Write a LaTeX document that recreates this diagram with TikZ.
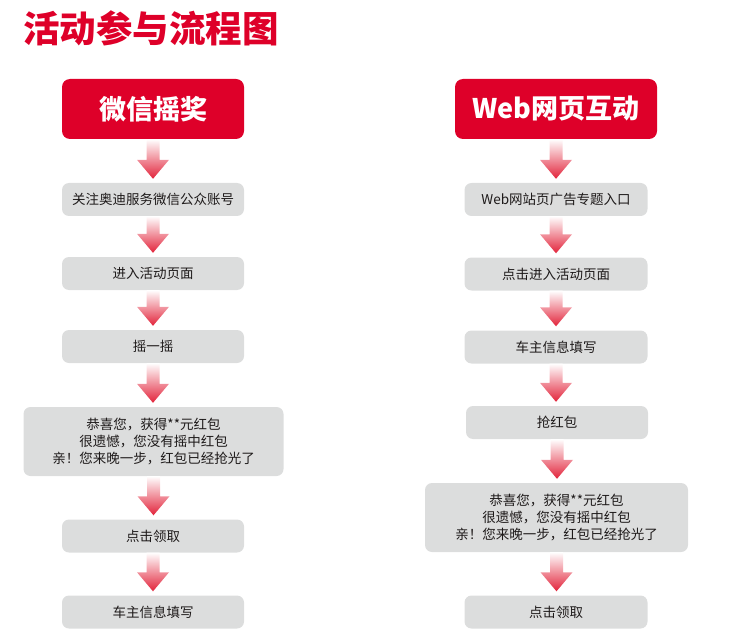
\documentclass[tikz,border=0pt]{standalone}
\usepackage{fontspec}
\setmainfont{Noto Sans CJK SC}
\usetikzlibrary{calc}
\definecolor{hdred}{HTML}{DE0029}
\definecolor{boxgray}{HTML}{DCDDDD}
\definecolor{txt}{HTML}{1E1A1A}
\definecolor{arrred}{HTML}{E2233A}
\tikzset{
  header/.style={rectangle, rounded corners=8pt, fill=hdred, text=white,
    font=\fontsize{27}{30}\selectfont\bfseries, minimum height=60pt, inner sep=0pt},
  stepbox/.style={rectangle, rounded corners=7pt, fill=boxgray, text=txt,
    font=\fontsize{13.5}{17}\selectfont, minimum height=33pt, inner sep=0pt, align=center},
  flowarrow/.style={top color=white, middle color=arrred!22, bottom color=arrred}
}
\newcommand\flowarr[2]{%
  \path[flowarrow] let \p1=(#1.south), \p2=(#2.north) in
    (\x1-6.5pt,\y1) -- (\x1+6.5pt,\y1) -- (\x1+6.5pt,\y2+23pt) -- (\x1+16pt,\y2+23pt)
    -- (\x1,\y2+4pt) -- (\x1-16pt,\y2+23pt) -- (\x1-6.5pt,\y2+23pt) -- cycle;
}
\begin{document}
\begin{tikzpicture}[x=1pt,y=-1pt]
\useasboundingbox (0,0) rectangle (743,636);
\node[anchor=west, inner sep=0pt, text=hdred, font=\fontsize{36.5}{40}\selectfont\bfseries] (title) at (23,28) {活动参与流程图};

% left column
\node[header, minimum width=182pt] (L0) at (153,109) {微信摇奖};
\node[stepbox, minimum width=182pt] (L1) at (153,199.5) {关注奥迪服务微信公众账号};
\node[stepbox, minimum width=182pt] (L2) at (153,273.5) {进入活动页面};
\node[stepbox, minimum width=182pt] (L3) at (153,346.5) {摇一摇};
\node[stepbox, minimum width=260pt, minimum height=69pt] (L4) at (153.5,441.5) {恭喜您，获得**元红包\\很遗憾，您没有摇中红包\\亲！您来晚一步，红包已经抢光了};
\node[stepbox, minimum width=182pt] (L5) at (153,536) {点击领取};
\node[stepbox, minimum width=182pt] (L6) at (153,612) {车主信息填写};

% right column
\node[header, minimum width=202pt] (R0) at (556,109) {Web网页互动};
\node[stepbox, minimum width=183pt] (R1) at (556,199.5) {Web网站页广告专题入口};
\node[stepbox, minimum width=183pt] (R2) at (556,274) {点击进入活动页面};
\node[stepbox, minimum width=183pt] (R3) at (556,347) {车主信息填写};
\node[stepbox, minimum width=182pt] (R4) at (557,422.5) {抢红包};
\node[stepbox, minimum width=263pt, minimum height=69pt] (R5) at (556.5,517.5) {恭喜您，获得**元红包\\很遗憾，您没有摇中红包\\亲！您来晚一步，红包已经抢光了};
\node[stepbox, minimum width=183pt] (R6) at (556,612) {点击领取};

\flowarr{L0}{L1}
\flowarr{L1}{L2}
\flowarr{L2}{L3}
\flowarr{L3}{L4}
\flowarr{L4}{L5}
\flowarr{L5}{L6}
\flowarr{R0}{R1}
\flowarr{R1}{R2}
\flowarr{R2}{R3}
\flowarr{R3}{R4}
\flowarr{R4}{R5}
\flowarr{R5}{R6}
\end{tikzpicture}
\end{document}
